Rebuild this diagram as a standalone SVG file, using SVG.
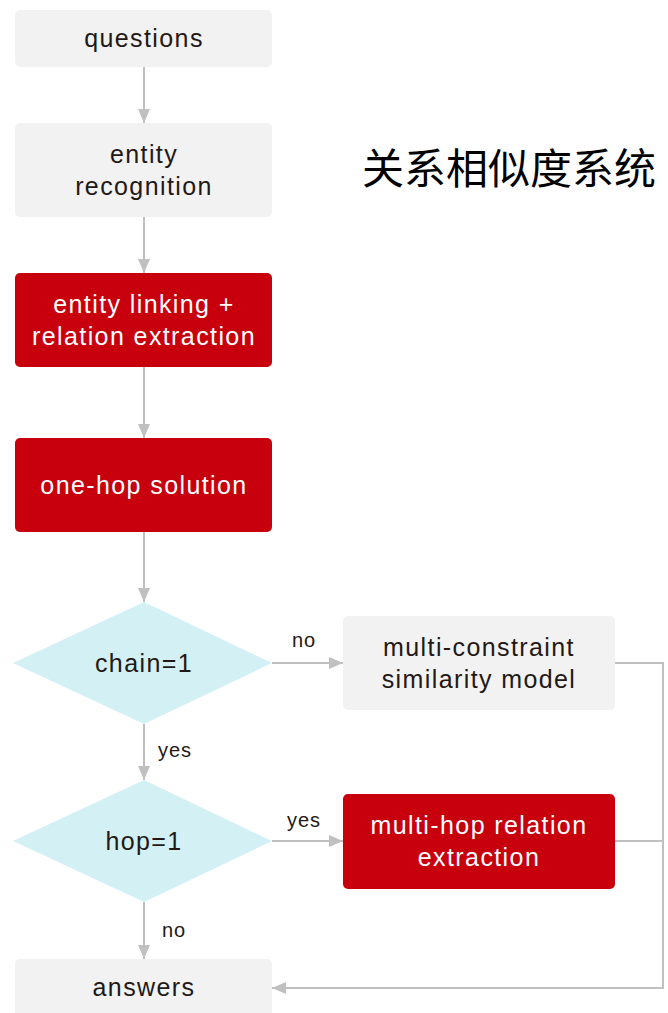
<svg xmlns="http://www.w3.org/2000/svg" width="668" height="1013" viewBox="0 0 668 1013">
  <style>
    .box-light { fill: #f2f2f2; }
    .box-red { fill: #c8000e; }
    .diamond { fill: #d3f0f5; }
    .t { font-family: "Liberation Sans", Arial, sans-serif; font-size: 25px; letter-spacing: 1.4px; text-anchor: middle; }
    .dark { fill: #231815; }
    .white { fill: #ffffff; }
    .lbl { font-family: "Liberation Sans", Arial, sans-serif; font-size: 20px; letter-spacing: 1px; fill: #231815; }
    .conn { fill: none; stroke: #c0c0c0; stroke-width: 2; }
    .title { font-family: "Noto Sans CJK SC", sans-serif; font-size: 42px; fill: #000; }
  </style>
  <defs>
    <marker id="arrow" viewBox="0 0 14 12" refX="14" refY="6" markerWidth="14" markerHeight="12" markerUnits="userSpaceOnUse" orient="auto">
      <path d="M0,0 L14,6 L0,12 Z" fill="#c0c0c0"/>
    </marker>
  </defs>

  <text class="title" x="362" y="184">关系相似度系统</text>

  <g id="connectors">
    <line class="conn" x1="144" y1="67" x2="144" y2="123" marker-end="url(#arrow)"/>
    <line class="conn" x1="144" y1="217" x2="144" y2="273" marker-end="url(#arrow)"/>
    <line class="conn" x1="144" y1="367" x2="144" y2="438" marker-end="url(#arrow)"/>
    <line class="conn" x1="144" y1="532" x2="144" y2="602" marker-end="url(#arrow)"/>
    <line class="conn" x1="272" y1="663" x2="343" y2="663" marker-end="url(#arrow)"/>
    <line class="conn" x1="144" y1="724" x2="144" y2="780" marker-end="url(#arrow)"/>
    <line class="conn" x1="272" y1="841" x2="343" y2="841" marker-end="url(#arrow)"/>
    <line class="conn" x1="144" y1="902" x2="144" y2="959" marker-end="url(#arrow)"/>
    <polyline class="conn" points="615,663 663,663 663,988 272,988" marker-end="url(#arrow)"/>
    <line class="conn" x1="615" y1="841" x2="663" y2="841"/>
    <text class="lbl" x="292" y="647">no</text>
    <text class="lbl" x="158" y="757">yes</text>
    <text class="lbl" x="287" y="827">yes</text>
    <text class="lbl" x="162" y="937">no</text>
  </g>

  <g id="questions">
    <rect class="box-light" x="15" y="10" width="257" height="57" rx="5"/>
    <text class="t dark" x="144" y="47">questions</text>
  </g>
  <g id="entity-recognition">
    <rect class="box-light" x="15" y="123" width="257" height="94" rx="5"/>
    <text class="t dark" x="144" y="163">entity</text>
    <text class="t dark" x="144" y="195">recognition</text>
  </g>
  <g id="entity-linking">
    <rect class="box-red" x="15" y="273" width="257" height="94" rx="5"/>
    <text class="t white" x="144" y="313">entity linking +</text>
    <text class="t white" x="144" y="345">relation extraction</text>
  </g>
  <g id="one-hop">
    <rect class="box-red" x="15" y="438" width="257" height="94" rx="5"/>
    <text class="t white" x="144" y="494">one-hop solution</text>
  </g>
  <g id="chain">
    <polygon class="diamond" points="144,602 272,663 144,724 13,663"/>
    <text class="t dark" x="144" y="672">chain=1</text>
  </g>
  <g id="multi-constraint">
    <rect class="box-light" x="343" y="616" width="272" height="94" rx="5"/>
    <text class="t dark" x="479" y="656">multi-constraint</text>
    <text class="t dark" x="479" y="688">similarity model</text>
  </g>
  <g id="hop">
    <polygon class="diamond" points="144,780 272,841 144,902 13,841"/>
    <text class="t dark" x="144" y="850">hop=1</text>
  </g>
  <g id="multi-hop">
    <rect class="box-red" x="343" y="794" width="272" height="95" rx="5"/>
    <text class="t white" x="479" y="834">multi-hop relation</text>
    <text class="t white" x="479" y="866">extraction</text>
  </g>
  <g id="answers">
    <rect class="box-light" x="15" y="959" width="257" height="60" rx="5"/>
    <text class="t dark" x="144" y="996">answers</text>
  </g>
</svg>
